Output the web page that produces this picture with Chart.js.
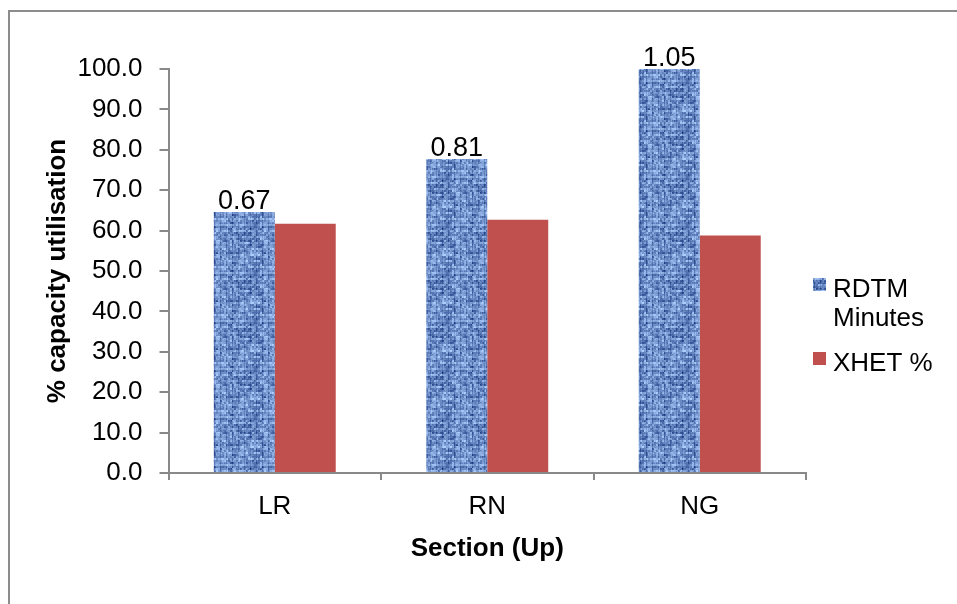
<!DOCTYPE html>
<html>
<head>
<meta charset="utf-8">
<script src="https://cdn.jsdelivr.net/npm/chart.js@4/dist/chart.umd.min.js"></script>
<style>
  html, body { margin: 0; padding: 0; background: #ffffff; }
  canvas { display: block; }
</style>
</head>
<body>
<canvas id="chart" width="957" height="604"></canvas>
<script>
// Sections along the line (Up direction)
const categories = ['LR', 'RN', 'NG'];
// % capacity utilisation per section
const rdtmUtilisation = [64.6, 77.7, 100.0];
const xhetUtilisation = [61.7, 62.7, 58.8];
// RDTM running minutes printed above the RDTM bars
const rdtmMinutes = ['0.67', '0.81', '1.05'];
// Series names (the first wraps onto two lines in the legend)
const seriesNames = [['RDTM', 'Minutes'], ['XHET %']];
// Value axis range
const yMin = 0, yMax = 100, yStep = 10;

const FONT = '"Liberation Sans", Arial, Helvetica, sans-serif';
const AXIS_GREY = '#898989';
const XHET_RED = '#C0504D';

// Woven blue texture used for the RDTM bars
function makeWeave() {
  const size = 48;
  const c = document.createElement('canvas');
  c.width = size; c.height = size;
  const g = c.getContext('2d');
  const img = g.createImageData(size, size);
  const hash = (x, y) => {
    let n = (x * 374761393 + y * 668265263) | 0;
    n = Math.imul(n ^ (n >>> 13), 1274126177);
    n = n ^ (n >>> 16);
    return (n >>> 0) / 4294967295;
  };
  const dark = [26, 56, 128], light = [172, 205, 252];
  for (let y = 0; y < size; y++) {
    for (let x = 0; x < size; x++) {
      let t = 0.58;
      if (y % 6 === 2 || y % 6 === 3) t += 0.16;   // light weft threads
      if (x % 6 === 4) t -= 0.2;                   // darker warp threads
      t += (hash(x >> 1, y >> 1) - 0.5) * 0.5;     // coarse grain
      t += (hash(x, y) - 0.5) * 0.2;               // fine grain
      t += (hash(x >> 2, y >> 3) - 0.5) * 0.3;     // streaks
      t = Math.max(0, Math.min(1, t));
      const i = (y * size + x) * 4;
      img.data[i]     = dark[0] + (light[0] - dark[0]) * t;
      img.data[i + 1] = dark[1] + (light[1] - dark[1]) * t;
      img.data[i + 2] = dark[2] + (light[2] - dark[2]) * t;
      img.data[i + 3] = 255;
    }
  }
  g.putImageData(img, 0, 0);
  return g.createPattern(c, 'repeat');
}
const weave = makeWeave();

// White page with the grey frame on the top and left edges
const framePlugin = {
  id: 'frame',
  beforeDraw(chart) {
    const ctx = chart.ctx;
    ctx.save();
    ctx.fillStyle = '#ffffff';
    ctx.fillRect(0, 0, chart.width, chart.height);
    ctx.strokeStyle = '#8c8c8c';
    ctx.lineWidth = 2;
    ctx.beginPath();
    ctx.moveTo(9, chart.height + 2);
    ctx.lineTo(9, 11);
    ctx.lineTo(chart.width + 2, 11);
    ctx.stroke();
    ctx.restore();
  }
};

// Minutes printed above each RDTM bar
const minutesLabelPlugin = {
  id: 'minutesLabels',
  afterDatasetsDraw(chart) {
    const ctx = chart.ctx;
    const meta = chart.getDatasetMeta(0);
    ctx.save();
    ctx.font = '27px ' + FONT;
    ctx.fillStyle = '#000000';
    ctx.textAlign = 'center';
    ctx.textBaseline = 'alphabetic';
    meta.data.forEach((bar, i) => {
      ctx.fillText(rdtmMinutes[i], bar.x, bar.y - 3);
    });
    ctx.restore();
  }
};

// Legend on the right
const sideLegendPlugin = {
  id: 'sideLegend',
  afterDraw(chart) {
    const ctx = chart.ctx;
    const fills = [weave, XHET_RED];
    const x0 = 813, sw = 13, tx = 833;
    const firstBaselines = [297, 371];
    const lineGap = 29;
    ctx.save();
    ctx.font = '26px ' + FONT;
    ctx.fillStyle = '#000000';
    ctx.textAlign = 'left';
    ctx.textBaseline = 'alphabetic';
    seriesNames.forEach((lines, i) => {
      const base = firstBaselines[i];
      ctx.fillStyle = fills[i];
      ctx.fillRect(x0, base - 19, sw, sw);
      ctx.fillStyle = '#000000';
      lines.forEach((line, k) => ctx.fillText(line, tx, base + k * lineGap));
    });
    ctx.restore();
  }
};

new Chart(document.getElementById('chart'), {
  type: 'bar',
  data: {
    labels: categories,
    datasets: [
      {
        label: seriesNames[0].join(' '),
        data: rdtmUtilisation,
        backgroundColor: weave,
        borderWidth: 0,
        categoryPercentage: 0.574,
        barPercentage: 1.0
      },
      {
        label: seriesNames[1].join(' '),
        data: xhetUtilisation,
        backgroundColor: XHET_RED,
        borderWidth: 0,
        categoryPercentage: 0.574,
        barPercentage: 1.0
      }
    ]
  },
  options: {
    responsive: false,
    animation: false,
    devicePixelRatio: 1,
    layout: { padding: { left: 0, top: 69, right: 151, bottom: 0 } },
    plugins: {
      legend: { display: false },
      tooltip: { enabled: false }
    },
    scales: {
      x: {
        grid: { offset: true, drawOnChartArea: false, tickLength: 7, color: AXIS_GREY, lineWidth: 2 },
        border: { color: AXIS_GREY, width: 2 },
        ticks: { color: '#000000', font: { family: FONT, size: 26 }, padding: 11 },
        title: {
          display: true,
          text: 'Section (Up)',
          color: '#000000',
          font: { family: FONT, size: 26, weight: 'bold' },
          padding: { top: 0, bottom: 40 }
        },
        afterFit(scale) { scale.height = 131; }
      },
      y: {
        min: yMin,
        max: yMax,
        grid: { drawOnChartArea: false, tickLength: 9, color: AXIS_GREY, lineWidth: 2 },
        border: { color: AXIS_GREY, width: 2 },
        ticks: {
          stepSize: yStep,
          color: '#000000',
          font: { family: FONT, size: 26 },
          padding: 17,
          callback: (v) => Number(v).toFixed(1)
        },
        title: {
          display: true,
          text: '% capacity utilisation',
          color: '#000000',
          font: { family: FONT, size: 26, weight: 'bold' },
          padding: { top: 42, bottom: 0 }
        },
        afterFit(scale) { scale.width = 168.5; }
      }
    }
  },
  plugins: [framePlugin, minutesLabelPlugin, sideLegendPlugin]
});
</script>
</body>
</html>
